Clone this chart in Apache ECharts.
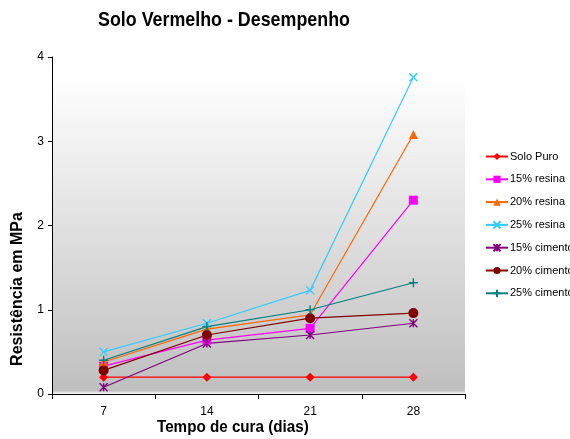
<!DOCTYPE html>
<html>
<head>
<meta charset="utf-8">
<script src="https://cdn.jsdelivr.net/npm/echarts@6/dist/echarts.min.js"></script>
<style>
  html, body { margin: 0; padding: 0; background: #fff; }
  #chart { width: 570px; height: 439px; }
</style>
</head>
<body>
<div id="chart"></div>
<script>
// Curing time (days) on the horizontal axis
const categories = ['7', '14', '21', '28'];

// Compressive strength in MPa for each mix
const soloPuro    = [0.20, 0.20, 0.20, 0.20];
const resina15    = [0.33, 0.64, 0.78, 2.30];
const resina20    = [0.38, 0.77, 0.94, 3.08];
const resina25    = [0.50, 0.84, 1.23, 3.76];
const cimento15   = [0.08, 0.60, 0.70, 0.84];
const cimento20   = [0.28, 0.70, 0.90, 0.96];
const cimento25   = [0.40, 0.80, 1.00, 1.32];

const seriesNames = ['Solo Puro', '15% resina', '20% resina', '25% resina',
                     '15% cimento', '20% cimento', '25% cimento'];

const FONT = 'Arial, "Liberation Sans", sans-serif';

const xSym = 'path://M0,0L10,10M10,0L0,10';
const plusSym = 'path://M5,0L5,10M0,5L10,5';
const starSym = 'path://M0,0L10,10M10,0L0,10M5,0L5,10';

function lineSeries(name, data, color, symbol, size, stroked) {
  return {
    name: name,
    type: 'line',
    data: data,
    symbol: symbol,
    symbolSize: size,
    showSymbol: true,
    lineStyle: { color: color, width: 1.2 },
    itemStyle: stroked
      ? { color: 'rgba(0,0,0,0)', borderColor: color, borderWidth: 1.4 }
      : { color: color, borderWidth: 0 },
    emphasis: { disabled: true },
    animation: false
  };
}

const chart = echarts.init(document.getElementById('chart'));
chart.setOption({
  animation: false,
  grid: {
    left: 52, top: 57, right: 105, bottom: 45,
    show: true,
    borderWidth: 0,
    backgroundColor: new echarts.graphic.LinearGradient(0, 0, 0, 1, [
      { offset: 0, color: '#ffffff' },
      { offset: 0.083, color: '#fdfdfd' },
      { offset: 0.99, color: '#bfbfbf' },
      { offset: 1, color: '#ffffff' }
    ])
  },
  legend: {
    orient: 'vertical',
    left: 480,
    top: 146,
    itemWidth: 22,
    itemHeight: 9,
    itemGap: 11.8,
    data: seriesNames,
    textStyle: { fontFamily: FONT, fontSize: 11, color: '#000', padding: [0, 0, 0, -3] }
  },
  xAxis: {
    type: 'category',
    data: categories,
    boundaryGap: true,
    axisLine: { lineStyle: { color: '#000', width: 1 } },
    axisTick: { show: true, length: 5, lineStyle: { color: '#000' } },
    axisLabel: { fontFamily: FONT, fontSize: 12, color: '#000', margin: 12 },
    splitLine: { show: false }
  },
  yAxis: {
    type: 'value',
    min: 0,
    max: 4,
    interval: 1,
    axisLine: { show: true, lineStyle: { color: '#000', width: 1 } },
    axisTick: { show: true, length: 4, lineStyle: { color: '#000' } },
    axisLabel: { fontFamily: FONT, fontSize: 12, color: '#000', margin: 8 },
    splitLine: { show: false }
  },
  graphic: [
    {
      // chart title, drawn slightly condensed
      type: 'text',
      x: 98,
      y: 10,
      scaleX: 0.85,
      style: {
        text: 'Solo Vermelho - Desempenho',
        font: 'bold 21px ' + FONT,
        fill: '#000',
        align: 'left',
        verticalAlign: 'top'
      }
    },
    {
      type: 'text',
      x: 157,
      y: 420,
      scaleX: 0.95,
      style: {
        text: 'Tempo de cura (dias)',
        font: 'bold 16px ' + FONT,
        fill: '#000',
        align: 'left',
        verticalAlign: 'top'
      }
    },
    {
      type: 'text',
      x: 18,
      y: 289,
      rotation: Math.PI / 2,
      style: {
        text: 'Resistência em MPa',
        font: 'bold 16px ' + FONT,
        fill: '#000',
        align: 'center',
        verticalAlign: 'middle'
      }
    }
  ],
  series: [
    lineSeries(seriesNames[0], soloPuro,  '#ff0000', 'diamond',  9, false),
    lineSeries(seriesNames[1], resina15,  '#ff00ff', 'rect',     9, false),
    lineSeries(seriesNames[2], resina20,  '#ff6600', 'triangle', 9, false),
    lineSeries(seriesNames[3], resina25,  '#33ccff', xSym,       8, true),
    lineSeries(seriesNames[4], cimento15, '#800080', starSym,    8, true),
    lineSeries(seriesNames[5], cimento20, '#800000', 'circle',  10, false),
    lineSeries(seriesNames[6], cimento25, '#008080', plusSym,    9, true)
  ]
});
</script>
</body>
</html>
